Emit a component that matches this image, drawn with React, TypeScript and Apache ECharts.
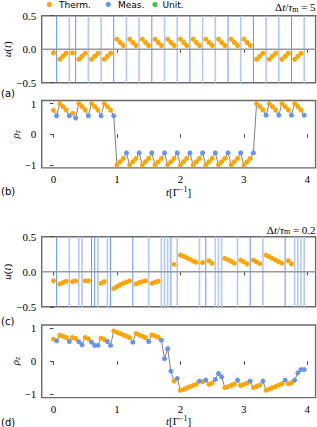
import React, { useEffect, useRef } from "react";
import * as echarts from "echarts";

// ---------- data ----------
const TIME = [
  0.0, 0.05, 0.1, 0.15, 0.2, 0.25, 0.3, 0.35, 0.4, 0.45,
  0.5, 0.55, 0.6, 0.65, 0.7, 0.75, 0.8, 0.85, 0.9, 0.95,
  1.0, 1.05, 1.1, 1.15, 1.2, 1.25, 1.3, 1.35, 1.4, 1.45,
  1.5, 1.55, 1.6, 1.65, 1.7, 1.75, 1.8, 1.85, 1.9, 1.95,
  2.0, 2.05, 2.1, 2.15, 2.2, 2.25, 2.3, 2.35, 2.4, 2.45,
  2.5, 2.55, 2.6, 2.65, 2.7, 2.75, 2.8, 2.85, 2.9, 2.95,
  3.0, 3.05, 3.1, 3.15, 3.2, 3.25, 3.3, 3.35, 3.4, 3.45,
  3.5, 3.55, 3.6, 3.65, 3.7, 3.75, 3.8, 3.85, 3.9, 3.95,
];

// T = thermalization step, M = measurement step
const KIND_A =
  "TMTTTMTM" +
  "TTTMTTTMTTTM" +
  "TTTMTTTMTTTMTTTMTTTMTTTMTTTMTTTMTTTMTTTMTTTM" +
  "TTTMTTTMTTTMTTTM";

const RHO_A = [
  0.78, 0.6, 1.0, 0.9, 0.79, 0.6, 0.68, 0.53,
  1.0, 0.9, 0.79, 0.6, 1.0, 0.9, 0.79, 0.6, 1.0, 0.9, 0.79, 0.6,
  -1.0, -0.9, -0.79, -0.61, -1.0, -0.9, -0.79, -0.61, -1.0, -0.9, -0.79, -0.61,
  -1.0, -0.9, -0.79, -0.61, -1.0, -0.9, -0.79, -0.61, -1.0, -0.9, -0.79, -0.61,
  -1.0, -0.9, -0.79, -0.61, -1.0, -0.9, -0.79, -0.61, -1.0, -0.9, -0.79, -0.61,
  -1.0, -0.9, -0.79, -0.61, -1.0, -0.9, -0.79, -0.61,
  1.0, 0.9, 0.79, 0.62, 1.0, 0.9, 0.79, 0.62, 1.0, 0.9, 0.79, 0.62, 1.0, 0.9, 0.79, 0.62,
];

const U_A = [
  -0.055, null, -0.15, -0.105, -0.06, null, -0.055, null,
  -0.15, -0.105, -0.06, null, -0.15, -0.105, -0.06, null, -0.15, -0.105, -0.06, null,
  0.15, 0.1, 0.055, null, 0.15, 0.1, 0.055, null, 0.15, 0.1, 0.055, null,
  0.15, 0.1, 0.055, null, 0.15, 0.1, 0.055, null, 0.15, 0.1, 0.055, null,
  0.15, 0.1, 0.055, null, 0.15, 0.1, 0.055, null, 0.15, 0.1, 0.055, null,
  0.15, 0.1, 0.055, null, 0.15, 0.1, 0.055, null,
  -0.15, -0.105, -0.06, null, -0.15, -0.105, -0.06, null, -0.15, -0.105, -0.06, null, -0.15, -0.105, -0.06, null,
];

const MEAS_A_DARK = [0.05, 0.35, 0.95, 1.55, 2.15, 2.75, 3.15, 3.75];
const MEAS_A_LIGHT = [0.25, 0.55, 0.75, 1.15, 1.35, 1.75, 1.95, 2.35, 2.55, 2.95, 3.35, 3.55, 3.95];

const KIND_C =
  "TMTTTMTTMMTTMMMTTMMTTTTTTMTTTTMTTTMMMMTMTTTTTTMTMTTMMMTTTTMTTTMTTTMTTTTTTMTTMMMM";

const RHO_C = [
  0.67, 0.62, 0.79, 0.76, 0.72, 0.6, 0.72, 0.69, 0.59, 0.5,
  0.72, 0.68, 0.58, 0.48, 0.48, 0.7, 0.66, 0.6, 0.48, 0.92,
  0.88, 0.84, 0.8, 0.76, 0.72, 0.58, 0.84, 0.8, 0.76, 0.72,
  0.6, 0.8, 0.77, 0.73, 0.64, 0.08, 0.38, -0.3, -0.6, -0.52,
  -0.88, -0.85, -0.81, -0.77, -0.73, -0.69, -0.6, -0.62, -0.57, -0.7,
  -0.66, -0.55, -0.37, -0.47, -0.8, -0.77, -0.73, -0.69, -0.57, -0.73,
  -0.7, -0.66, -0.6, -0.8, -0.76, -0.72, -0.6, -0.88, -0.84, -0.8,
  -0.76, -0.72, -0.68, -0.57, -0.68, -0.65, -0.57, -0.35, -0.25, -0.25,
];

const U_C = [
  -0.13, null, -0.175, -0.155, -0.135, null, -0.14, -0.13, null, null,
  -0.13, -0.13, null, null, null, -0.165, -0.14, null, null, -0.24,
  -0.21, -0.185, -0.165, -0.145, -0.13, null, -0.175, -0.155, -0.14, -0.13,
  null, -0.165, -0.15, -0.135, null, null, null, null, 0.105, null,
  0.237, 0.22, 0.2, 0.176, 0.152, 0.135, null, 0.13, null, 0.157,
  0.12, null, null, null, 0.19, 0.17, 0.15, 0.12, null, 0.166,
  0.14, 0.11, null, 0.166, 0.14, 0.115, null, 0.237, 0.215, 0.19,
  0.165, 0.14, 0.12, null, 0.157, 0.11, null, null, null, null,
];

const MEAS_C_DARK = [0.05, 0.6, 0.65, 0.9, 1.25, 1.85, 2.4, 3.1, 3.65];
const MEAS_C_LIGHT = [
  0.25, 0.4, 0.45, 0.7, 0.85, 1.5, 1.7, 1.75, 1.8, 1.95, 2.3, 2.55, 2.6, 2.65,
  2.9, 3.3, 3.8, 3.85, 3.9, 3.95,
];

const X_TICKS = [0, 1, 2, 3, 4];
const U_TICKS = [-0.5, 0, 0.5];
const RHO_TICKS = [-1, 0, 1];
const LEGEND = ["Therm.", "Meas.", "Unit."];

// ---------- style ----------
const ORANGE = "#FFA500";
const BLUE = "#6495ED";
const LIGHT_BLUE = "#b3c9f4";
const GREEN = "#32CD32";
const SPINE = "#6a6a6a";
const SERIF = '"Liberation Serif", "DejaVu Serif", serif';
const SANS = '"DejaVu Sans", sans-serif';
const X_MIN = -0.185;
const X_MAX = 4.13;

const GRIDS = [
  { left: 41.7, top: 15.7, width: 273.9, height: 67 },
  { left: 41.7, top: 100.5, width: 273.9, height: 67.4 },
  { left: 41.7, top: 236.7, width: 273.9, height: 70.1 },
  { left: 41.7, top: 325, width: 273.9, height: 72.6 },
];

function pick(kinds: string, vals: (number | null)[], want: string) {
  const out: number[][] = [];
  for (let i = 0; i < TIME.length; i++) {
    if (kinds[i] === want && vals[i] != null) out.push([TIME[i], vals[i] as number]);
  }
  return out;
}

function allPts(vals: number[]) {
  return TIME.map((t, i) => [t, vals[i]]);
}

function vlines(idx: number, dark: number[], light: number[]) {
  const data = [...light.map((t) => [t, 0]), ...dark.map((t) => [t, 1])];
  return {
    type: "custom",
    xAxisIndex: idx,
    yAxisIndex: idx,
    data,
    silent: true,
    z: 1,
    renderItem: (params: any, api: any) => {
      const t = api.value(0);
      const isDark = api.value(1) === 1;
      const cs = params.coordSys;
      const x = api.coord([t, 0])[0];
      return {
        type: "line",
        shape: { x1: x, y1: cs.y, x2: x, y2: cs.y + cs.height },
        style: {
          stroke: isDark ? BLUE : LIGHT_BLUE,
          lineWidth: isDark ? 1 : 1.6,
        },
      };
    },
  };
}

function zeroLine(idx: number) {
  return {
    type: "line",
    xAxisIndex: idx,
    yAxisIndex: idx,
    data: [
      [X_MIN, 0],
      [X_MAX, 0],
    ],
    symbol: "none",
    lineStyle: { color: "#9a9a9a", width: 1.5 },
    silent: true,
    z: 2,
  };
}

function scatter(idx: number, data: number[][], color: string) {
  return {
    type: "scatter",
    xAxisIndex: idx,
    yAxisIndex: idx,
    data,
    symbolSize: 5,
    itemStyle: { color, opacity: 1 },
    z: 3,
    silent: true,
  };
}

function grayLine(idx: number, data: number[][]) {
  return {
    type: "line",
    xAxisIndex: idx,
    yAxisIndex: idx,
    data,
    symbol: "none",
    lineStyle: { color: "#808080", width: 1 },
    z: 2,
    silent: true,
  };
}

const mathRich = {
  n: { fontFamily: SERIF, fontSize: 11, color: "#000" },
  it: { fontFamily: SERIF, fontSize: 11, fontStyle: "italic", color: "#000" },
  sub: { fontFamily: SERIF, fontSize: 8, color: "#000", padding: [4, 0, 0, 0] },
  subi: { fontFamily: SERIF, fontSize: 8, fontStyle: "italic", color: "#000", padding: [4, 0, 0, 0] },
  sup: { fontFamily: SERIF, fontSize: 8, color: "#000", padding: [0, 0, 5, 0] },
};

export default function App() {
  const ref = useRef<HTMLDivElement>(null);

  useEffect(() => {
    if (!ref.current) return;
    const chart = echarts.init(ref.current, undefined, { renderer: "svg" });

    const xAxes = GRIDS.map((_, i) => ({
      type: "value",
      gridIndex: i,
      min: X_MIN,
      max: X_MAX,
      axisLine: { show: false },
      splitLine: { show: false },
      axisTick: {
        show: true,
        customValues: X_TICKS,
        length: 3.5,
        lineStyle: { color: "#444", width: 1 },
      },
      axisLabel: {
        show: i === 1 || i === 3,
        customValues: X_TICKS,
        margin: 6,
        fontFamily: SERIF,
        fontSize: 11,
        color: "#000",
      },
    }));

    const yAxes = GRIDS.map((_, i) => {
      const isU = i === 0 || i === 2;
      const ticks = isU ? U_TICKS : RHO_TICKS;
      return {
        type: "value",
        gridIndex: i,
        min: isU ? -0.5 : -1.1,
        max: isU ? 0.5 : 1.1,
        axisLine: { show: false },
        splitLine: { show: false },
        axisTick: {
          show: true,
          customValues: ticks,
          length: 3.5,
          lineStyle: { color: "#444", width: 1 },
        },
        axisLabel: {
          show: true,
          customValues: ticks,
          margin: 5.5,
          fontFamily: SERIF,
          fontSize: 11,
          color: "#000",
          formatter: (v: number) =>
            (isU ? v.toFixed(1) : String(Math.round(v))).replace("-", "\u2212"),
        },
      };
    });

    const graphic: any[] = [
      // legend
      { type: "circle", shape: { cx: 49.3, cy: 4.5, r: 2.6 }, style: { fill: ORANGE } },
      { type: "text", x: 59, y: 4.5, style: { text: LEGEND[0], fontFamily: SANS, fontSize: 9, fill: "#000", verticalAlign: "middle" } },
      { type: "circle", shape: { cx: 108.3, cy: 4.5, r: 2.6 }, style: { fill: BLUE } },
      { type: "text", x: 118, y: 4.5, style: { text: LEGEND[1], fontFamily: SANS, fontSize: 9, fill: "#000", verticalAlign: "middle" } },
      { type: "circle", shape: { cx: 155, cy: 4.5, r: 2.6 }, style: { fill: GREEN } },
      { type: "text", x: 162.5, y: 4.5, style: { text: LEGEND[2], fontFamily: SANS, fontSize: 9, fill: "#000", verticalAlign: "middle" } },
      // titles
      {
        type: "text", x: 315.6, y: 7,
        style: { text: "{n|Δ}{it|t}{n|/}{it|τ}{sub|m}{n| = 5}", align: "right", verticalAlign: "middle", rich: mathRich },
      },
      {
        type: "text", x: 315.6, y: 229.5,
        style: { text: "{n|Δ}{it|t}{n|/}{it|τ}{sub|m}{n| = 0.2}", align: "right", verticalAlign: "middle", rich: mathRich },
      },
      // y names
      {
        type: "text", x: 7, y: 49.2, rotation: Math.PI / 2,
        style: { text: "{it|u}{n|(}{it|t}{n|)}", align: "center", verticalAlign: "middle", rich: mathRich },
      },
      {
        type: "text", x: 15, y: 134.3, rotation: Math.PI / 2,
        style: { text: "{it|ρ}{subi|z}", align: "center", verticalAlign: "middle", rich: mathRich },
      },
      {
        type: "text", x: 7, y: 271.7, rotation: Math.PI / 2,
        style: { text: "{it|u}{n|(}{it|t}{n|)}", align: "center", verticalAlign: "middle", rich: mathRich },
      },
      {
        type: "text", x: 15, y: 361, rotation: Math.PI / 2,
        style: { text: "{it|ρ}{subi|z}", align: "center", verticalAlign: "middle", rich: mathRich },
      },
      // x names
      {
        type: "text", x: 178.6, y: 192,
        style: { text: "{it|t}{n|[Γ}{sup|−1}{n|]}", align: "center", verticalAlign: "middle", rich: mathRich },
      },
      {
        type: "text", x: 178.6, y: 421,
        style: { text: "{it|t}{n|[Γ}{sup|−1}{n|]}", align: "center", verticalAlign: "middle", rich: mathRich },
      },
      // panel labels
      ...[["(a)", 93], ["(b)", 191], ["(c)", 321], ["(d)", 422]].map(([t, y]) => ({
        type: "text", x: 1, y: y as number,
        style: { text: t as string, fontFamily: SANS, fontSize: 10, fill: "#000", verticalAlign: "middle" },
      })),
    ];

    chart.setOption({
      animation: false,
      grid: GRIDS.map((g) => ({
        ...g,
        show: true,
        borderColor: SPINE,
        borderWidth: 1.4,
        backgroundColor: "transparent",
        containLabel: false,
      })),
      xAxis: xAxes,
      yAxis: yAxes,
      series: [
        vlines(0, MEAS_A_DARK, MEAS_A_LIGHT),
        zeroLine(0),
        scatter(0, pick(KIND_A, U_A, "T"), ORANGE),
        grayLine(1, allPts(RHO_A)),
        scatter(1, pick(KIND_A, RHO_A, "T"), ORANGE),
        scatter(1, pick(KIND_A, RHO_A, "M"), BLUE),
        vlines(2, MEAS_C_DARK, MEAS_C_LIGHT),
        zeroLine(2),
        scatter(2, pick(KIND_C, U_C, "T"), ORANGE),
        grayLine(3, allPts(RHO_C)),
        scatter(3, pick(KIND_C, RHO_C, "T"), ORANGE),
        scatter(3, pick(KIND_C, RHO_C, "M"), BLUE),
      ],
      graphic,
    });

    return () => chart.dispose();
  }, []);

  return (
    <div
      ref={ref}
      style={{ position: "fixed", left: 0, top: 0, width: 317, height: 427, background: "#fff" }}
    />
  );
}
